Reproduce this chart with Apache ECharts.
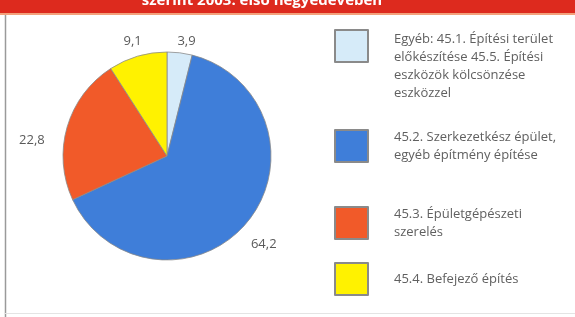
<!DOCTYPE html>
<html>
<head>
<meta charset="utf-8">
<script src="https://cdn.jsdelivr.net/npm/echarts@6/dist/echarts.min.js"></script>
<style>
  html, body { margin: 0; padding: 0; background: #fff; }
  #chart { width: 575px; height: 317px; }
</style>
</head>
<body>
<div id="chart"></div>
<script>
// ágazatok (kategóriák) és részesedés %-ban
const categories = ['Egyéb', '45.2.', '45.3.', '45.4.'];
const shares = [3.9, 64.2, 22.8, 9.1];
const legendLabels = [
  'Egyéb: 45.1. Építési terület\nelőkészítése 45.5. Építési\neszközök kölcsönzése\neszközzel',
  '45.2. Szerkezetkész épület,\negyéb építmény építése',
  '45.3. Épületgépészeti\nszerelés',
  '45.4. Befejező építés'
];
const colors = ['#d6ebf9', '#3f7ed9', '#f15a29', '#fff200'];

// címkék finomhangolása (képpont eltolás), adatsorrendben
const labelShift = [[-9, 2], [-12, 13], [-4, 17], [13, -1]];
const legendTops = [29, 128, 205, 262];

const chart = echarts.init(document.getElementById('chart'));

const fmtNum = v => v.toFixed(1).replace('.', ',');

// négyzet + láthatatlan pont: a szöveg távolabb kerül, az első tételnél felülre igazít
const squareIcon = (w, h) => 'path://M0,0L33,0L33,32L0,32Z M' + w + ',' + h;

const legends = categories.map((name, i) => {
  const h = i === 0 ? 72 : 32;
  return {
    left: 334,
    top: legendTops[i],
    padding: 0,
    orient: 'vertical',
    selectedMode: false,
    icon: squareIcon(54, h),
    itemWidth: 54,
    itemHeight: h,
    data: [name],
    formatter: () => legendLabels[i],
    textStyle: {
      fontFamily: 'Open Sans',
      fontSize: 13,
      color: '#606060',
      lineHeight: 18
    }
  };
});

const option = {
  animation: false,
  backgroundColor: '#ffffff',
  legend: legends,
  graphic: [
    { type: 'rect', shape: { x: 0, y: 0, width: 575, height: 13 }, style: { fill: '#dd2a1e' } },
    { type: 'rect', shape: { x: 0, y: 13, width: 575, height: 2 }, style: { fill: '#f3a27c' } },
    {
      type: 'text', x: 262, y: 1,
      style: {
        text: 'szerint 2003. első negyedévében',
        fill: '#ffffff', font: 'bold 15px "Open Sans"',
        textAlign: 'center', textVerticalAlign: 'middle'
      }
    },
    { type: 'line', shape: { x1: 5.5, y1: 15, x2: 5.5, y2: 317 }, style: { stroke: '#9a9a9a', lineWidth: 1.5 } },
    { type: 'line', shape: { x1: 5, y1: 313.5, x2: 575, y2: 313.5 }, style: { stroke: '#e4e4e4', lineWidth: 1 } }
  ],
  series: [{
    type: 'pie',
    center: [167, 156],
    radius: 104,
    startAngle: 90,
    clockwise: true,
    silent: true,
    itemStyle: { borderColor: '#8a8a8a', borderWidth: 0.8 },
    label: {
      show: true,
      position: 'outside',
      formatter: p => fmtNum(p.value),
      fontFamily: 'Open Sans',
      fontSize: 13,
      color: '#5a5a5a'
    },
    labelLine: { show: false, length: 14, length2: 0 },
    labelLayout: p => ({ dx: labelShift[p.dataIndex][0], dy: labelShift[p.dataIndex][1] }),
    data: categories.map((name, i) => ({
      name: name,
      value: shares[i],
      itemStyle: { color: colors[i] }
    }))
  }]
};

chart.setOption(option);
</script>
</body>
</html>
